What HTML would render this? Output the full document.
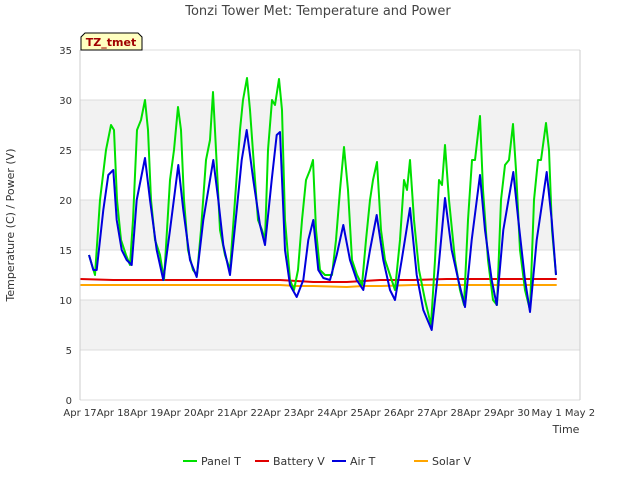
<!DOCTYPE html>
<html><head><meta charset="utf-8"><style>
body{margin:0;background:#fff;font-family:"Liberation Sans","DejaVu Sans",sans-serif}
</style></head><body>
<svg id="chart" width="640" height="480" xmlns="http://www.w3.org/2000/svg" font-family="DejaVu Sans, Liberation Sans, sans-serif">
<rect width="640" height="480" fill="#fff"/>
<g id="bands"></g>
<g id="grid"></g>
<g id="series"></g>
<g id="axes"></g>
<text x="318" y="15" text-anchor="middle" font-size="13" fill="#444">Tonzi Tower Met: Temperature and Power</text>
<text x="14" y="225" text-anchor="middle" font-size="11" fill="#333" transform="rotate(-90 14 225)">Temperature (C) / Power (V)</text>
<text x="566" y="433" text-anchor="middle" font-size="11" fill="#333">Time</text>
<g>
<path d="M81,50 L81,37 L85,33 L138,33 L142,37 L142,50 Z" fill="#ffffc0" stroke="#000" stroke-width="1"/>
<text x="111" y="46" text-anchor="middle" font-size="11" font-weight="bold" fill="#a00000">TZ_tmet</text>
</g>
<g id="legend"></g>
</svg>
<script>
const yTicks=[0,5,10,15,20,25,30,35];
const xTickLabels=["Apr 17","Apr 18","Apr 19","Apr 20","Apr 21","Apr 22","Apr 23","Apr 24","Apr 25","Apr 26","Apr 27","Apr 28","Apr 29","Apr 30","May 1","May 2"];
const panelDays=[0.27,0.45,0.6,0.78,0.93,1.02,1.11,1.23,1.38,1.5,1.59,1.71,1.83,1.95,2.04,2.13,2.25,2.4,2.52,2.7,2.82,2.94,3.03,3.12,3.24,3.39,3.51,3.63,3.78,3.9,3.99,4.08,4.2,4.35,4.5,4.65,4.8,4.89,5.01,5.1,5.25,5.34,5.46,5.55,5.64,5.76,5.85,5.97,6.06,6.15,6.3,6.42,6.54,6.66,6.78,6.9,6.99,7.08,7.2,7.35,7.56,7.68,7.8,7.92,8.04,8.16,8.31,8.46,8.58,8.7,8.79,8.91,9.03,9.15,9.3,9.45,9.6,9.72,9.81,9.9,10.02,10.17,10.35,10.53,10.65,10.77,10.86,10.95,11.07,11.25,11.4,11.52,11.64,11.76,11.85,12.0,12.09,12.24,12.39,12.51,12.63,12.75,12.87,12.99,13.08,13.2,13.35,13.5,13.62,13.74,13.83,13.98,14.07,14.16,14.28];
const panelT=[14.5,12.5,20,25,27.5,27,20,16,14.5,13.5,18,27,28,30,27,20,16,14.5,12,22,25,29.3,27,20,15,13,12.5,17,24,26,30.8,25,17,14.5,13,20,27,30,32.2,29,22,18,17,16,25,30,29.5,32.1,29,18,12,11,13,18,22,23,24,17,13,12.5,12.5,16,21,25.3,21,14,12.5,11.5,16,20,22,23.8,17,14,12.5,11,16,22,21,24,18,13,10,7.5,14,22,21.5,25.5,20,14,11,9.5,18,24,24,28.4,21,14,10,9.5,20,23.5,24,27.6,23,15,11,9,20,24,24,27.7,25,17,12.5];
const airDays=[0.27,0.4,0.5,0.7,0.85,1.0,1.1,1.25,1.4,1.55,1.7,1.95,2.1,2.3,2.5,2.7,2.95,3.1,3.3,3.5,3.7,4.0,4.15,4.3,4.5,4.7,4.85,5.0,5.2,5.4,5.55,5.75,5.9,6.0,6.15,6.3,6.5,6.7,6.85,7.0,7.15,7.3,7.5,7.7,7.9,8.1,8.3,8.5,8.7,8.9,9.1,9.3,9.45,9.65,9.9,10.1,10.3,10.55,10.75,10.95,11.15,11.35,11.55,11.75,12.0,12.15,12.35,12.5,12.7,13.0,13.15,13.35,13.5,13.7,14.0,14.15,14.28];
const airT=[14.5,13,13,19,22.5,23,18,15,14,13.5,20,24.2,20,15,12,17,23.5,19,14,12.3,18,24,20,15.5,12.5,19,24,27,22,17.5,15.5,22,26.5,26.8,15,11.5,10.3,12,16,18,13,12.2,12,14.5,17.5,14,12,11,15,18.5,14,11,10,14,19.2,12.5,9,7,13,20.2,15,12,9.3,16,22.5,17,12,9.5,17,22.8,18,12,8.8,16,22.8,18,12.5];
const battDays=[0,1,2,3,4,5,6,6.5,7,8,8.5,9,10,11,12,13,14,14.3];
const battV=[12.1,12.0,12.0,12.0,12.0,12.0,12.0,11.9,11.8,11.8,11.9,12.0,12.0,12.1,12.1,12.1,12.1,12.1];
const solarDays=[0,1,2,3,4,5,6,6.5,7,8,8.5,9,10,11,12,13,14,14.3];
const solarV=[11.5,11.5,11.5,11.5,11.5,11.5,11.5,11.4,11.4,11.3,11.4,11.4,11.5,11.5,11.5,11.5,11.5,11.5];
const NS="http://www.w3.org/2000/svg";
const X0=80,X1=580,Y0=400,Y1=50,DAYS=15,YMAX=35;
function xs(d){return X0+d*(X1-X0)/DAYS;}
function ys(v){return Y0-v*(Y0-Y1)/YMAX;}
function mk(tag,attrs,parent){const e=document.createElementNS(NS,tag);for(const k in attrs)e.setAttribute(k,attrs[k]);parent.appendChild(e);return e;}
const bands=document.getElementById('bands'),grid=document.getElementById('grid'),axes=document.getElementById('axes'),series=document.getElementById('series'),legend=document.getElementById('legend');
mk('rect',{x:X0,y:Y1,width:X1-X0,height:Y0-Y1,fill:'#fff'},bands);
for(let i=0;i<yTicks.length-1;i++){
 if(i%2===1){const r=mk('rect',{x:X0,y:ys(yTicks[i+1]),width:X1-X0,height:ys(yTicks[i])-ys(yTicks[i+1]),fill:'#f2f2f2'},bands);
 
 }
}
yTicks.forEach(v=>{
 const l=mk('line',{x1:X0,x2:X1,y1:ys(v),y2:ys(v),stroke:'#dcdcdc','stroke-width':1},grid);
 
 
 const t=mk('text',{x:X0-8,y:ys(v)+4,'text-anchor':'end','font-size':10,fill:'#333'},axes);
 t.textContent=v;
 
 
});
xTickLabels.forEach((lab,i)=>{
 const t=mk('text',{x:xs(i),y:Y0+16,'text-anchor':'middle','font-size':10,fill:'#333'},axes);
 t.textContent=lab;
 
 
});
mk('line',{x1:X0,x2:X0,y1:Y1,y2:Y0,stroke:'#ccc'},axes);
mk('line',{x1:X1,x2:X1,y1:Y1,y2:Y0,stroke:'#ccc'},axes);
function line(days,vals,color,name){
 const p=mk('polyline',{points:days.map((d,i)=>xs(d).toFixed(1)+','+ys(vals[i]).toFixed(1)).join(' '),fill:'none',stroke:color,'stroke-width':2,'stroke-linejoin':'round'},series);
 
 
}
line(solarDays,solarV,'#ffa500','solar-v-line');
line(battDays,battV,'#e00000','battery-v-line');
line(panelDays,panelT,'#00e000','panel-t-line');
line(airDays,airT,'#0000dd','air-t-line');
const leg=[['Panel T','#00e000',183],['Battery V','#e00000',255],['Air T','#0000dd',332],['Solar V','#ffa500',414]];
leg.forEach(([lab,c,x])=>{
 const g=mk('g',{},legend);
 
 
 mk('line',{x1:x,x2:x+14,y1:461,y2:461,stroke:c,'stroke-width':2},g);
 const t=mk('text',{x:x+18,y:465,'font-size':11,fill:'#333'},g);
 t.textContent=lab;
});
</script>
</body></html>
